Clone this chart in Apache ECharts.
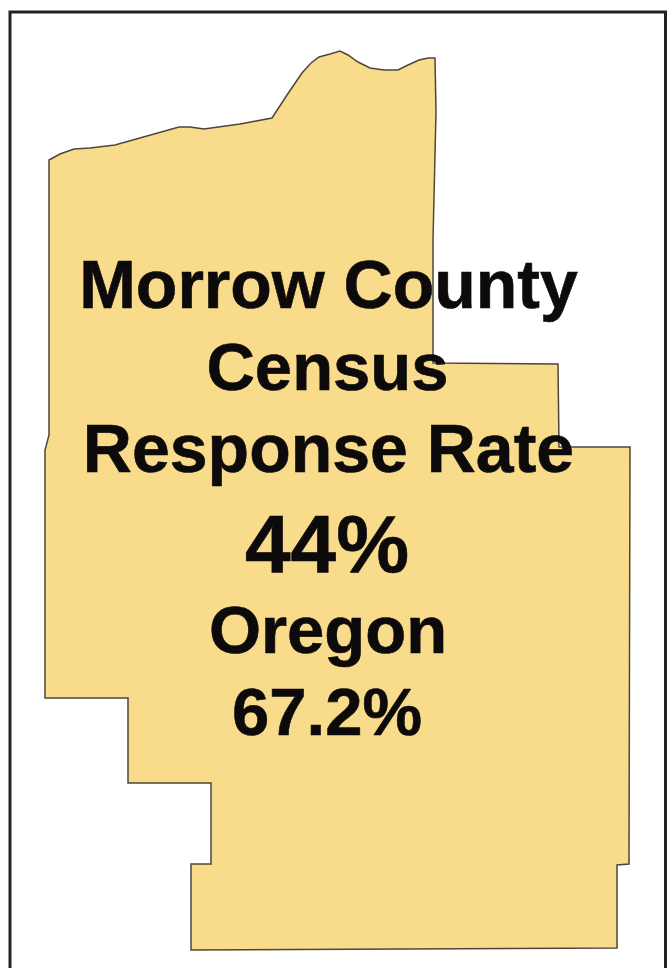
<!DOCTYPE html>
<html><head><meta charset="utf-8">
<style>html,body{margin:0;padding:0;background:#fff}#c{width:667px;height:968px}</style>
<script src="https://cdn.jsdelivr.net/npm/echarts@6/dist/echarts.min.js"></script>
</head><body><div id="c"></div>
<script>
const regionName = 'Morrow County';
const outlineX = [49,60,74,90,115,147,179,190,204,240,272,287,302,311,319,330,340,348,358,370,384,398,408,419,428,435,436,433,433,558,559,630,629,617,617,191,191,211,211,128,128,45,45,49];
const outlineY = [160,154,149,148,145,136,127,127,129,124,118,95,73,63,57,54,51,55,62,68,70,70,65,60,58,58,112,240,363,364,447,447,864,865,948,950,864,864,783,783,698,698,450,435];
const textLines = ['Morrow County','Census','Response Rate','44%','Oregon','67.2%'];
const lineY = [289,371.5,453,549,635,717];
const lineSize = [68,67,68,82,67,67];
const lineX = [328.5,327.5,328.5,327,328,327];

const chart = echarts.init(document.getElementById('c'), null, {renderer:'canvas'});
chart.setOption({
  animation:false,
  backgroundColor:'#fff',
  grid:{left:0,right:0,top:0,bottom:0},
  xAxis:{type:'value',min:0,max:667,show:false},
  yAxis:{type:'value',min:0,max:968,inverse:true,show:false},
  graphic:[{type:'polyline',silent:true,z:0,shape:{points:[[10,980],[10,12],[665.5,12],[665.5,980]]},style:{stroke:'#222',lineWidth:3,fill:null}}],
  series:[
    {type:'custom',name:regionName,coordinateSystem:'cartesian2d',silent:true,z:2,
     data:outlineX.map((x,i)=>[x,outlineY[i]]),
     renderItem:(params,api)=>{
       if(params.dataIndex!==0) return null;
       const pts=outlineX.map((x,i)=>api.coord([x,outlineY[i]]));
       return {type:'polygon',shape:{points:pts},style:{fill:'#F9DC8B',stroke:'#4E4738',lineWidth:1.5}};
     }},
    {type:'scatter',coordinateSystem:'cartesian2d',silent:true,z:5,symbolSize:0,itemStyle:{opacity:1},
     data:textLines.map((t,i)=>({value:[lineX[i],lineY[i]],name:t,
       label:{show:true,position:'inside',formatter:t,fontFamily:'"Liberation Sans",Arial,sans-serif',fontWeight:'bold',fontSize:lineSize[i],color:'#0D0A0C',textBorderColor:'#0D0A0C',textBorderWidth:0.6,align:'center',verticalAlign:'middle'}}))}
  ]
});
</script></body></html>
